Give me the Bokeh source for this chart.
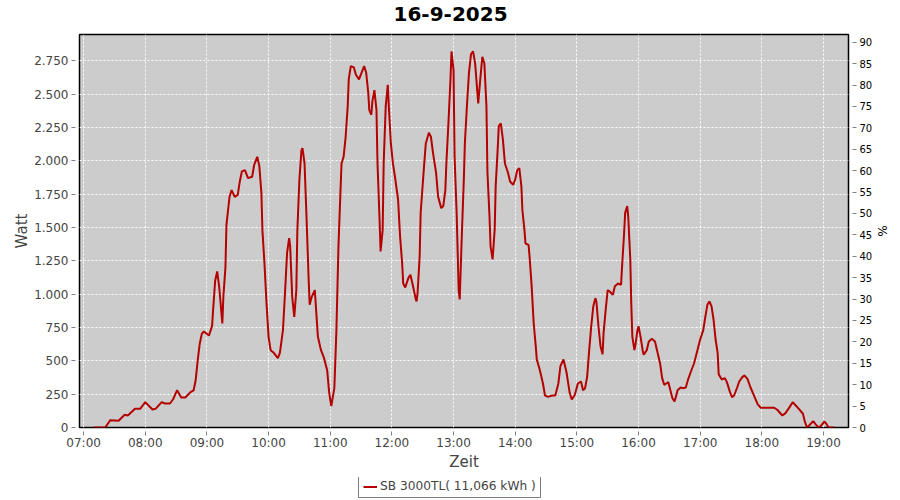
import pandas as pd
from bokeh.plotting import figure
from bokeh.layouts import column
from bokeh.models import (Range1d, LinearAxis, SingleIntervalTicker, FixedTicker,
                          DatetimeTickFormatter, Legend, LegendItem, Label)
from bokeh.embed import file_html
from bokeh.resources import INLINE

DAY = "2025-09-16"
title_text = "16-9-2025"
legend_label = "SB 3000TL( 11,066 kWh )"

times = [
    "07:10", "07:21", "07:26", "07:34", "07:40", "07:43", "07:50", "07:55", "08:00", "08:07",
    "08:10", "08:16", "08:19", "08:24", "08:27", "08:31", "08:35", "08:39", "08:44", "08:47",
    "08:49", "08:51", "08:53", "08:55", "08:57", "09:02", "09:05", "09:06", "09:08", "09:10",
    "09:12", "09:14", "09:15", "09:16", "09:18", "09:19", "09:22", "09:24", "09:27", "09:30",
    "09:32", "09:34", "09:37", "09:40", "09:44", "09:46", "09:49", "09:51", "09:53", "09:54",
    "09:56", "09:58", "10:00", "10:02", "10:05", "10:09", "10:11", "10:14", "10:16", "10:18",
    "10:20", "10:21", "10:23", "10:25", "10:27", "10:28", "10:30", "10:32", "10:33", "10:35",
    "10:37", "10:39", "10:40", "10:42", "10:45", "10:46", "10:48", "10:51", "10:54", "10:57",
    "10:59", "11:01", "11:04", "11:06", "11:08", "11:10", "11:11", "11:13", "11:15", "11:17",
    "11:18", "11:20", "11:23", "11:25", "11:28", "11:31", "11:33", "11:35", "11:37", "11:38",
    "11:40", "11:41", "11:43", "11:45", "11:46", "11:48", "11:49", "11:51", "11:52", "11:54",
    "11:56", "11:57", "11:59", "12:01", "12:03", "12:06", "12:08", "12:10", "12:11", "12:13",
    "12:16", "12:18", "12:20", "12:23", "12:24", "12:25", "12:27", "12:28", "12:31", "12:33",
    "12:36", "12:38", "12:40", "12:43", "12:45", "12:48", "12:50", "12:52", "12:53", "12:55",
    "12:57", "12:58", "13:00", "13:01", "13:03", "13:05", "13:06", "13:08", "13:10", "13:11",
    "13:13", "13:15", "13:17", "13:19", "13:21", "13:23", "13:24", "13:26", "13:28", "13:30",
    "13:32", "13:33", "13:35", "13:36", "13:38", "13:40", "13:41", "13:43", "13:44", "13:46",
    "13:48", "13:50", "13:53", "13:55", "13:58", "14:00", "14:02", "14:04", "14:06", "14:07",
    "14:09", "14:10", "14:13", "14:14", "14:16", "14:18", "14:20", "14:21", "14:24", "14:27",
    "14:29", "14:32", "14:36", "14:39", "14:42", "14:44", "14:47", "14:50", "14:53", "14:55",
    "14:58", "15:01", "15:04", "15:06", "15:08", "15:10", "15:12", "15:14", "15:16", "15:18",
    "15:19", "15:21", "15:23", "15:25", "15:26", "15:28", "15:30", "15:32", "15:35", "15:37",
    "15:40", "15:43", "15:44", "15:46", "15:47", "15:49", "15:50", "15:52", "15:53", "15:54",
    "15:56", "15:57", "15:59", "16:00", "16:02", "16:04", "16:05", "16:08", "16:10", "16:13",
    "16:16", "16:18", "16:21", "16:23", "16:25", "16:27", "16:29", "16:31", "16:33", "16:35",
    "16:36", "16:38", "16:41", "16:43", "16:46", "16:48", "16:51", "16:54", "16:57", "17:00",
    "17:03", "17:05", "17:07", "17:09", "17:11", "17:13", "17:15", "17:17", "17:18", "17:21",
    "17:24", "17:26", "17:29", "17:31", "17:33", "17:36", "17:38", "17:41", "17:43", "17:46",
    "17:49", "17:53", "17:56", "17:59", "18:04", "18:12", "18:15", "18:20", "18:23", "18:27",
    "18:30", "18:33", "18:36", "18:40", "18:42", "18:44", "18:46", "18:50", "18:52", "18:55",
    "18:57", "19:01", "19:03", "19:05", "19:10",
]

watts = [
    0, 0, 55, 50, 95, 90, 140, 140, 190, 135,
    140, 190, 180, 180, 210, 280, 225, 225, 265, 278,
    352, 502, 628, 702, 720, 690, 760, 880, 1100, 1170,
    1050, 870, 780, 980, 1200, 1520, 1730, 1780, 1730, 1745,
    1845, 1920, 1930, 1870, 1880, 1970, 2030, 1960, 1760, 1480,
    1230, 930, 680, 580, 560, 520, 560, 730, 1010, 1310,
    1420, 1360, 980, 830, 1030, 1480, 1860, 2080, 2095, 1980,
    1560, 1110, 920, 980, 1030, 910, 680, 580, 520, 430,
    260, 160, 295, 730, 1360, 1780, 1980, 2030, 2180, 2410,
    2610, 2710, 2700, 2645, 2610, 2670, 2710, 2660, 2510, 2380,
    2345, 2445, 2530, 2380, 1980, 1560, 1320, 1480, 1980, 2410,
    2570, 2410, 2130, 1980, 1880, 1710, 1430, 1230, 1080, 1050,
    1120, 1145, 1080, 970, 945, 1010, 1280, 1610, 1930, 2130,
    2210, 2180, 2060, 1910, 1730, 1645, 1660, 1780, 1980, 2280,
    2610, 2820, 2680, 2030, 1610, 1030, 960, 1430, 1860, 2130,
    2410, 2660, 2800, 2820, 2730, 2530, 2430, 2610, 2780, 2730,
    2410, 1910, 1580, 1360, 1260, 1480, 1810, 2095, 2260, 2280,
    2160, 1980, 1910, 1845, 1820, 1860, 1930, 1945, 1810, 1630,
    1480, 1380, 1370, 1280, 1060, 780, 610, 510, 430, 330,
    240, 230, 240, 240, 330, 460, 510, 410, 260, 210,
    245, 330, 345, 280, 295, 380, 580, 760, 910, 970,
    945, 760, 610, 550, 710, 880, 1030, 1020, 995, 1060,
    1080, 1070, 1210, 1460, 1610, 1660, 1580, 1260, 910, 680,
    580, 620, 730, 760, 680, 580, 545, 580, 645, 665,
    645, 580, 480, 370, 320, 330, 340, 280, 220, 195,
    220, 280, 300, 295, 300, 355, 420, 480, 570, 660,
    730, 830, 920, 945, 910, 810, 660, 560, 400, 360,
    370, 340, 265, 228, 240, 300, 345, 378, 390, 365,
    300, 228, 173, 148, 148, 148, 133, 90, 108, 153,
    190, 165, 140, 103, 40, 0, 15, 48, 28, 0,
    8, 45, 25, 0, 0,
]

watt_ticks = [0, 250, 500, 750, 1000, 1250, 1500, 1750, 2000, 2250, 2500, 2750]
watt_tick_labels = ["0", "250", "500", "750", "1.000", "1.250", "1.500", "1.750",
                    "2.000", "2.250", "2.500", "2.750"]
pct_ticks = [0, 5, 10, 15, 20, 25, 30, 35, 40, 45, 50, 55, 60, 65, 70, 75, 80, 85, 90]

x = pd.to_datetime([DAY + " " + t for t in times])

FONT = "DejaVu Sans"
TXT = "#444444"
RED = "#b40000"
x_start = pd.Timestamp(DAY + " 06:56")
x_end = pd.Timestamp(DAY + " 19:24:20")

# title strip (its frame lines up with the chart frame below it)
tf = figure(frame_width=769, frame_height=26, output_backend="svg", toolbar_location=None,
            x_axis_location=None, y_axis_location=None,
            x_range=Range1d(0, 1), y_range=Range1d(0, 1),
            min_border=0, min_border_left=0, min_border_right=0,
            min_border_top=0, min_border_bottom=0)
tf.outline_line_color = None
tf.grid.visible = False
tf.background_fill_color = "white"
tf.add_layout(Label(x=0.4825, y=0.5, text=title_text, text_align="center", text_baseline="middle",
                    text_font=FONT, text_font_size="20px", text_font_style="bold",
                    text_color="black"))

p = figure(frame_width=769, frame_height=393, x_axis_type="datetime", title=None,
           output_backend="svg", toolbar_location=None,
           x_range=Range1d(x_start, x_end), y_range=Range1d(0, 2947),
           min_border_left=79, min_border_right=52, min_border_top=8, min_border_bottom=50)

p.background_fill_color = "#cccccc"
p.border_fill_color = "white"
p.outline_line_color = "black"
p.outline_line_width = 1.5

r = p.line(x, watts, line_color=RED, line_width=2)

p.extra_y_ranges = {"pct": Range1d(0, 91.8)}
ax_r = LinearAxis(y_range_name="pct", ticker=FixedTicker(ticks=pct_ticks), axis_label="%")
p.add_layout(ax_r, "right")

xa = p.xaxis[0]
xa.ticker = SingleIntervalTicker(interval=3600000)
xa.formatter = DatetimeTickFormatter(hours="%H:%M", minutes="%H:%M", hourmin="%H:%M", days="%H:%M")
xa.axis_label = "Zeit"

ya = p.yaxis[0]
ya.ticker = FixedTicker(ticks=watt_ticks)
ya.major_label_overrides = {t: l for t, l in zip(watt_ticks, watt_tick_labels)}
ya.axis_label = "Watt"

for ax in [xa, ya, ax_r]:
    ax.axis_line_color = None
    ax.major_tick_line_color = "#808080"
    ax.major_tick_in = -4
    ax.major_tick_out = 8
    ax.minor_tick_line_color = None
    ax.major_label_standoff = 3
    ax.major_label_text_font = FONT
    ax.axis_label_text_font = FONT
    ax.axis_label_text_font_style = "normal"

for ax in [xa, ya]:
    ax.major_label_text_font_size = "12px"
    ax.major_label_text_color = TXT
    ax.axis_label_text_font_size = "15px"
    ax.axis_label_text_color = TXT
    ax.axis_label_standoff = 0

xa.major_label_standoff = 0

ax_r.major_label_text_font_size = "10px"
ax_r.major_label_text_color = "black"
ax_r.axis_label_text_font_size = "12px"
ax_r.axis_label_text_color = "black"
ax_r.axis_label_standoff = 0

p.grid.grid_line_color = "white"
p.grid.grid_line_dash = "2 2"
p.grid.grid_line_width = 1
p.xgrid.ticker = xa.ticker
p.ygrid.ticker = ya.ticker

# legend strip below the chart (same series, drawn outside this strip's y range)
lg = figure(frame_width=900, frame_height=23, output_backend="svg", toolbar_location=None,
            x_axis_type="datetime", x_axis_location=None, y_axis_location=None,
            x_range=Range1d(x_start, x_end), y_range=Range1d(-2, -1),
            min_border=0, min_border_left=0, min_border_right=0,
            min_border_top=0, min_border_bottom=0)
lg.outline_line_color = None
lg.grid.visible = False
lg.background_fill_color = "white"
lr = lg.line(x, watts, line_color=RED, line_width=2)

legend = Legend(items=[LegendItem(label=legend_label, renderers=[lr])],
                orientation="horizontal", location=(358, 2),
                border_line_color="black", border_line_width=1,
                background_fill_color="white", background_fill_alpha=1,
                label_text_font=FONT, label_text_font_size="12.2px", label_text_color=TXT,
                padding=4, margin=0, spacing=0, label_standoff=3,
                glyph_width=14, glyph_height=11, label_height=11)
lg.add_layout(legend, "center")

open("out.html", "w").write(file_html(column(tf, p, lg, spacing=0), INLINE))
